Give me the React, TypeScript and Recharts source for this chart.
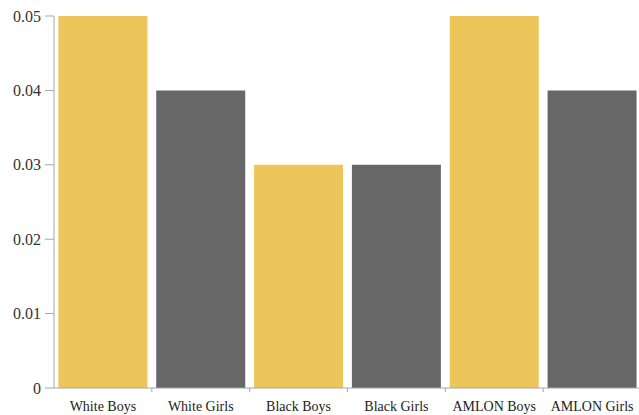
import { BarChart, Bar, XAxis, YAxis, Cell } from "recharts"

const groups = ["White Boys", "White Girls", "Black Boys", "Black Girls", "AMLON Boys", "AMLON Girls"]
const values = [0.05, 0.04, 0.03, 0.03, 0.05, 0.04]
const yTicks = [0, 0.01, 0.02, 0.03, 0.04, 0.05]

const YELLOW = "#EDC65B"
const GREY = "#676767"
const AXIS = "#A6A6A6"

const WIDTH = 645
const HEIGHT = 415
const MARGIN = { top: 16, right: 4, left: 0, bottom: 0 }
const Y_WIDTH = 54
const BAND = (WIDTH - MARGIN.left - MARGIN.right - Y_WIDTH) / groups.length

// category labels centred, with small tick marks at the category boundaries
function GroupTick(props: any) {
  const { x, y, payload, index } = props
  return (
    <g>
      {index > 0 && (
        <line x1={x - BAND / 2} x2={x - BAND / 2} y1={y - 8} y2={y - 4} stroke={AXIS} />
      )}
      <text
        x={x}
        y={y + 15}
        textAnchor="middle"
        fill="#222"
        fontSize={14}
        fontFamily="'Liberation Serif', serif"
      >
        {payload.value}
      </text>
    </g>
  )
}

export default function App() {
  const data = groups.map((g, i) => ({ group: g, value: values[i] }))

  return (
    <div style={{ position: "absolute", left: 0, top: 0, width: WIDTH, height: HEIGHT, background: "#fff" }}>
      <BarChart width={WIDTH} height={HEIGHT} data={data} margin={MARGIN} barCategoryGap="4.5%">
        <XAxis
          dataKey="group"
          stroke={AXIS}
          tickLine={false}
          tick={<GroupTick />}
          interval={0}
          height={27}
        />
        <YAxis
          width={Y_WIDTH}
          domain={[0, 0.05]}
          ticks={yTicks}
          stroke={AXIS}
          tickSize={9}
          tickMargin={4}
          tick={{ fill: "#333", fontSize: 16, fontFamily: "'Liberation Serif', serif" }}
          tickFormatter={(v: number) => (v === 0 ? "0" : v.toFixed(2))}
        />
        <Bar dataKey="value" isAnimationActive={false}>
          {data.map((d, i) => (
            <Cell key={d.group} fill={i % 2 === 0 ? YELLOW : GREY} />
          ))}
        </Bar>
      </BarChart>
    </div>
  )
}
